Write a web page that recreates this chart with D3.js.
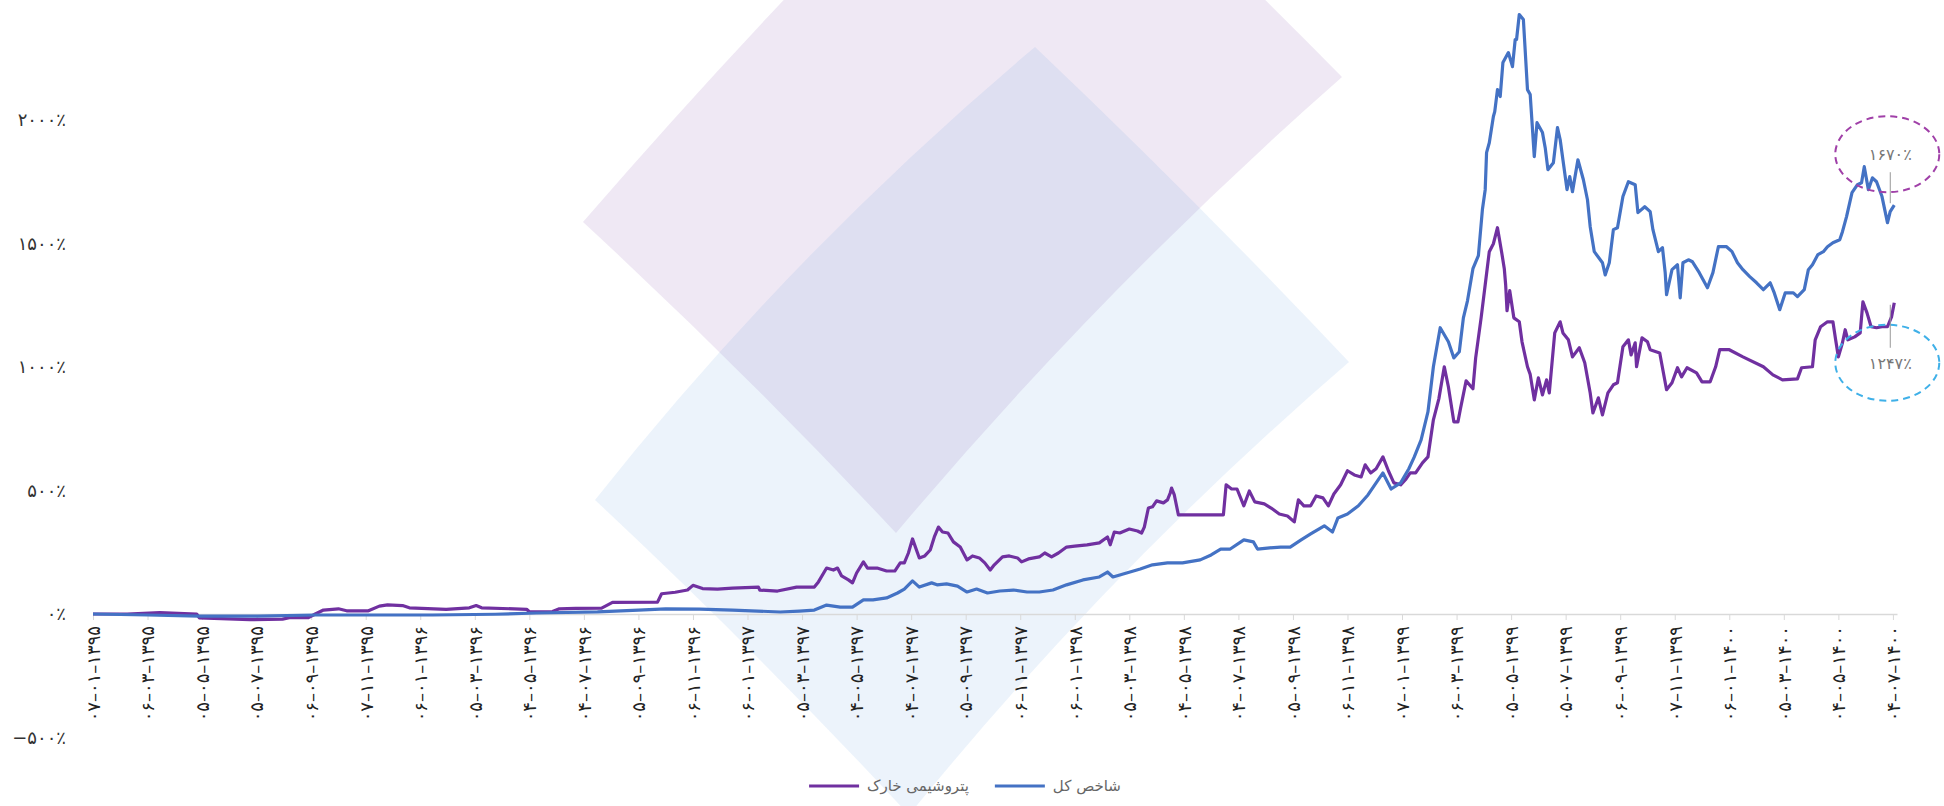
<!DOCTYPE html>
<html>
<head>
<meta charset="utf-8">
<script src="https://cdn.jsdelivr.net/npm/d3@7"></script>
<style>
  body { margin: 0; background: #fff; }
  svg { display: block; font-family: "DejaVu Sans", sans-serif; }
</style>
</head>
<body>
<svg id="chart" width="1944" height="806"></svg>
<script>
// ---- data (روز معاملاتی از ابتدای دوره، بازده تجمعی ٪) ----
var xTickDays = [0, 40, 80, 120, 160, 200, 240, 280, 320, 360, 400, 440, 480, 520, 560, 600, 640,
    680, 720, 760, 800, 840, 880, 920, 960, 1000, 1040, 1080, 1120, 1160, 1200, 1240, 1280, 1320];
var xTickLabels = [
    "۰۷–۰۱–۱۳۹۵", "۰۶–۰۳–۱۳۹۵", "۰۵–۰۵–۱۳۹۵", "۰۵–۰۷–۱۳۹۵", "۰۶–۰۹–۱۳۹۵", "۰۷–۱۱–۱۳۹۵",
    "۰۶–۰۱–۱۳۹۶", "۰۵–۰۳–۱۳۹۶", "۰۴–۰۵–۱۳۹۶", "۰۴–۰۷–۱۳۹۶", "۰۵–۰۹–۱۳۹۶", "۰۶–۱۱–۱۳۹۶",
    "۰۶–۰۱–۱۳۹۷", "۰۵–۰۳–۱۳۹۷", "۰۴–۰۵–۱۳۹۷", "۰۴–۰۷–۱۳۹۷", "۰۵–۰۹–۱۳۹۷", "۰۶–۱۱–۱۳۹۷",
    "۰۶–۰۱–۱۳۹۸", "۰۵–۰۳–۱۳۹۸", "۰۴–۰۵–۱۳۹۸", "۰۴–۰۷–۱۳۹۸", "۰۵–۰۹–۱۳۹۸", "۰۶–۱۱–۱۳۹۸",
    "۰۷–۰۱–۱۳۹۹", "۰۶–۰۳–۱۳۹۹", "۰۵–۰۵–۱۳۹۹", "۰۵–۰۷–۱۳۹۹", "۰۶–۰۹–۱۳۹۹", "۰۷–۱۱–۱۳۹۹",
    "۰۶–۰۱–۱۴۰۰", "۰۵–۰۳–۱۴۰۰", "۰۴–۰۵–۱۴۰۰", "۰۴–۰۷–۱۴۰۰"];
var yTickValues = [-500, 0, 500, 1000, 1500, 2000];
var yTickLabels = ["−۵۰۰٪", "۰٪", "۵۰۰٪", "۱۰۰۰٪", "۱۵۰۰٪", "۲۰۰۰٪"];

var seriesNames = ["شاخص کل", "پتروشیمی خارک"];
var seriesColors = ["#4472c4", "#7030a0"];
var endLabels = ["۱۶۷۰٪", "۱۲۴۷٪"];

// شاخص کل
var indexDays = [0, 40, 78, 121, 163, 205, 249, 295, 325, 370, 400, 420, 445, 469, 504, 518, 529, 538, 548, 557,
    565, 572, 582, 590, 595, 601, 606, 615, 619, 626, 634, 641, 648, 656, 665, 675, 685, 694, 704, 714,
    726, 738, 744, 748, 758, 768, 777, 788, 799, 812, 820, 827, 834, 844, 851, 854, 863, 871, 878, 886,
    893, 903, 909, 913, 920, 928, 935, 941, 946, 952, 959, 965, 969, 974, 979, 983, 988, 994, 998, 1002,
    1005, 1008, 1012, 1016, 1019, 1021, 1022, 1024, 1027, 1028, 1030, 1032, 1034, 1038, 1041, 1043, 1044, 1046, 1049, 1052,
    1054, 1057, 1059, 1063, 1065, 1067, 1071, 1074, 1076, 1078, 1081, 1083, 1085, 1089, 1093, 1096, 1098, 1101, 1107, 1109,
    1112, 1115, 1118, 1122, 1126, 1131, 1133, 1138, 1142, 1144, 1148, 1151, 1153, 1154, 1158, 1162, 1164, 1166, 1170, 1173,
    1178, 1184, 1188, 1192, 1198, 1202, 1206, 1210, 1215, 1220, 1225, 1230, 1233, 1237, 1241, 1247, 1250, 1255, 1258, 1261,
    1265, 1269, 1272, 1276, 1281, 1283, 1286, 1290, 1294, 1297, 1299, 1302, 1305, 1308, 1312, 1314, 1316, 1318, 1321];
var indexValues = [0, -4, -9, -9, -4, -4, -4, -1, 4, 9, 16, 21, 20, 16, 8, 12, 16, 36, 28, 28,
    57, 57, 65, 85, 101, 134, 109, 126, 118, 122, 113, 89, 101, 85, 93, 97, 89, 89, 97, 118,
    138, 150, 170, 150, 166, 182, 199, 207, 207, 219, 239, 263, 263, 300, 292, 263, 268, 271, 271, 300,
    324, 357, 332, 389, 405, 438, 482, 531, 571, 506, 531, 588, 636, 705, 818, 1001, 1159, 1102, 1037, 1062,
    1199, 1268, 1398, 1451, 1640, 1718, 1868, 1908, 2014, 2034, 2123, 2095, 2233, 2273, 2216, 2326, 2326, 2427, 2407, 2123,
    2103, 1852, 1989, 1949, 1888, 1799, 1827, 1969, 1920, 1839, 1718, 1771, 1710, 1839, 1758, 1677, 1568, 1467, 1422, 1373,
    1422, 1556, 1564, 1690, 1750, 1738, 1625, 1649, 1629, 1556, 1467, 1483, 1382, 1293, 1394, 1414, 1280, 1422, 1434, 1426,
    1382, 1321, 1382, 1487, 1487, 1467, 1422, 1394, 1366, 1341, 1313, 1341, 1300, 1232, 1300, 1300, 1285, 1313, 1394, 1414,
    1455, 1467, 1487, 1503, 1515, 1548, 1609, 1706, 1738, 1746, 1811, 1718, 1766, 1750, 1690, 1637, 1584, 1629, 1655];

// پتروشیمی خارک
var kharkDays = [0, 25, 49, 76, 78, 94, 115, 139, 144, 158, 163, 169, 180, 186, 202, 210, 216, 227, 232, 259,
    276, 281, 285, 318, 320, 337, 342, 354, 373, 381, 414, 417, 427, 436, 440, 447, 458, 469, 488, 489,
    502, 516, 529, 532, 538, 543, 546, 549, 554, 557, 560, 565, 568, 575, 582, 588, 592, 595, 598, 601,
    606, 610, 614, 617, 620, 623, 627, 631, 636, 641, 645, 650, 654, 658, 661, 667, 672, 678, 681, 686,
    694, 698, 703, 708, 714, 720, 729, 738, 744, 746, 749, 753, 760, 766, 769, 771, 774, 777, 780, 785,
    788, 790, 791, 793, 796, 829, 831, 835, 839, 844, 848, 852, 859, 864, 870, 876, 881, 884, 888, 893,
    897, 902, 906, 910, 915, 920, 925, 930, 933, 937, 941, 946, 950, 954, 959, 963, 966, 970, 975, 979,
    983, 987, 991, 994, 998, 1001, 1003, 1007, 1012, 1014, 1018, 1021, 1024, 1027, 1030, 1033, 1035, 1036, 1037, 1039,
    1042, 1046, 1048, 1052, 1054, 1057, 1060, 1063, 1066, 1068, 1072, 1076, 1078, 1082, 1085, 1090, 1094, 1098, 1100, 1104,
    1107, 1111, 1115, 1118, 1122, 1126, 1128, 1131, 1132, 1136, 1140, 1142, 1149, 1154, 1158, 1162, 1165, 1169, 1176, 1180,
    1186, 1190, 1193, 1200, 1210, 1225, 1232, 1239, 1250, 1253, 1261, 1263, 1267, 1272, 1276, 1278, 1280, 1283, 1285, 1287,
    1292, 1296, 1298, 1301, 1304, 1308, 1312, 1316, 1319, 1321];
var kharkValues = [0, 0, 6, 0, -16, -19, -23, -21, -15, -15, 0, 16, 21, 13, 13, 32, 37, 34, 25, 19,
    25, 34, 25, 19, 9, 10, 21, 23, 24, 47, 48, 82, 88, 97, 116, 103, 101, 105, 109, 97,
    93, 109, 109, 130, 186, 178, 186, 154, 138, 126, 166, 211, 186, 186, 174, 174, 207, 207, 247, 304,
    227, 235, 259, 312, 352, 332, 328, 292, 271, 219, 235, 227, 207, 178, 199, 231, 235, 227, 211, 223,
    231, 247, 231, 247, 271, 275, 280, 288, 312, 280, 332, 328, 344, 336, 328, 352, 429, 434, 458, 450,
    462, 490, 510, 482, 401, 401, 523, 506, 506, 438, 498, 454, 446, 429, 405, 397, 373, 462, 438, 438,
    478, 470, 438, 486, 523, 580, 563, 555, 604, 571, 588, 636, 580, 531, 523, 547, 571, 571, 612, 636,
    786, 871, 1001, 920, 778, 778, 835, 944, 912, 1037, 1199, 1333, 1467, 1499, 1564, 1467, 1398, 1333, 1228, 1309,
    1199, 1183, 1102, 1001, 970, 867, 956, 887, 948, 895, 1138, 1183, 1138, 1110, 1041, 1078, 1017, 895, 814, 875,
    806, 895, 928, 936, 1082, 1110, 1049, 1098, 1001, 1118, 1102, 1070, 1057, 908, 936, 997, 960, 997, 976, 940,
    940, 1001, 1070, 1070, 1041, 1001, 968, 948, 952, 997, 1001, 1110, 1163, 1183, 1183, 1110, 1041, 1098, 1151, 1110,
    1122, 1138, 1264, 1219, 1163, 1159, 1163, 1163, 1203, 1260];

var series = [
    { name: seriesNames[0], color: seriesColors[0], days: indexDays, values: indexValues, label: endLabels[0] },
    { name: seriesNames[1], color: seriesColors[1], days: kharkDays, values: kharkValues, label: endLabels[1] }
];

// ---- chart ----
var svg = d3.select("#chart");

var x = d3.scaleLinear().domain([0, 1323]).range([93, 1897]);
var y = d3.scaleLinear().domain([0, 2000]).range([614, 120]);

// watermark (دو لوزی کمرنگ پس زمینه)
function curvedShape(pts, bends) {
    var p = d3.path();
    p.moveTo(pts[0][0], pts[0][1]);
    for (var i = 0; i < pts.length; i++) {
        var a = pts[i], b = pts[(i + 1) % pts.length];
        var dx = b[0] - a[0], dy = b[1] - a[1], len = Math.sqrt(dx * dx + dy * dy);
        var cx = (a[0] + b[0]) / 2 + dy / len * bends[i] * 2;
        var cy = (a[1] + b[1]) / 2 - dx / len * bends[i] * 2;
        p.quadraticCurveTo(cx, cy, b[0], b[1]);
    }
    p.closePath();
    return p.toString();
}
var bg = svg.append("g");
bg.append("path")
    .attr("d", curvedShape([[583, 222], [1015, -234], [1342, 77], [896, 533]], [7, 4, -12, -4]))
    .attr("fill", "rgb(150,100,180)").attr("fill-opacity", 0.15);
bg.append("path")
    .attr("d", curvedShape([[595, 500], [1035, 47], [1349, 362], [909, 815]], [16, 3, -14, -4]))
    .attr("fill", "rgb(110,160,225)").attr("fill-opacity", 0.13);

// y axis
var yAxis = svg.append("g")
    .attr("transform", "translate(74,0)")
    .call(d3.axisLeft(y).tickValues(yTickValues)
        .tickFormat(function(d, i) { return yTickLabels[i]; })
        .tickSize(0).tickPadding(8));
yAxis.select(".domain").remove();
yAxis.selectAll("text")
    .attr("font-family", "DejaVu Sans, sans-serif")
    .attr("font-size", 18).attr("fill", "#333").attr("direction", "ltr");

// x axis
var xAxis = svg.append("g")
    .attr("transform", "translate(0," + y(0) + ")")
    .call(d3.axisBottom(x).tickValues(xTickDays)
        .tickFormat(function(d, i) { return xTickLabels[i]; })
        .tickSize(6).tickSizeOuter(0));
xAxis.select(".domain").attr("stroke", "#d9d9d9").attr("stroke-width", 1.5);
xAxis.selectAll(".tick line").attr("stroke", "#d9d9d9");
xAxis.selectAll("text")
    .attr("font-family", "DejaVu Sans, sans-serif")
    .attr("font-size", 18).attr("letter-spacing", 1.2)
    .attr("fill", "#222").attr("direction", "ltr")
    .attr("text-anchor", "end")
    .attr("transform", "rotate(-90)")
    .attr("x", -12).attr("y", 0).attr("dy", "0.35em");

// lines
var line = d3.line()
    .x(function(d) { return x(d[0]); })
    .y(function(d) { return y(d[1]); });

svg.append("g").selectAll("path.serie")
    .data(series.slice().reverse())
    .enter().append("path")
    .attr("class", "serie")
    .attr("d", function(s) { return line(d3.zip(s.days, s.values)); })
    .attr("fill", "none")
    .attr("stroke", function(s) { return s.color; })
    .attr("stroke-width", 3.2)
    .attr("stroke-linejoin", "round");

// end labels in dashed ellipses
var ann = [
    { s: series[0], dy: -51, ring: "#a040a8", lineFrom: -33, lineTo: -2 },
    { s: series[1], dy: 60, ring: "#3fb0e8", lineFrom: 2, lineTo: 45 }
];
ann.forEach(function(a) {
    var n = a.s.days.length;
    var ex = x(a.s.days[n - 1]), ey = y(a.s.values[n - 1]);
    var cx = ex - 7, cy = ey + a.dy;
    svg.append("ellipse")
        .attr("cx", cx).attr("cy", cy).attr("rx", 52).attr("ry", 38)
        .attr("fill", "none").attr("stroke", a.ring)
        .attr("stroke-width", 2).attr("stroke-dasharray", "7,5");
    svg.append("line")
        .attr("x1", ex - 4).attr("x2", ex - 4)
        .attr("y1", ey + a.lineFrom).attr("y2", ey + a.lineTo)
        .attr("stroke", "#999").attr("stroke-width", 1);
    svg.append("text")
        .attr("x", cx + 3).attr("y", cy + 6)
        .attr("text-anchor", "middle").attr("direction", "ltr")
        .attr("font-size", 16).attr("fill", "#777")
        .text(a.s.label);
});

// legend
var legend = svg.append("g").attr("transform", "translate(0,786)");
var items = legend.selectAll("g.item")
    .data(series.slice().reverse())
    .enter().append("g").attr("class", "item");
items.append("line")
    .attr("x1", 0).attr("x2", 50).attr("y1", 0).attr("y2", 0)
    .attr("stroke", function(s) { return s.color; }).attr("stroke-width", 3);
items.append("text")
    .attr("x", 58).attr("y", 5)
    .attr("font-size", 15).attr("fill", "#666")
    .text(function(s) { return s.name; });
var widths = [];
items.each(function() { widths.push(58 + d3.select(this).select("text").node().getComputedTextLength()); });
var total = d3.sum(widths) + 26 * (widths.length - 1);
var pos = 965 - total / 2;
items.attr("transform", function(s, i) {
    var t = "translate(" + pos + ",0)";
    pos += widths[i] + 26;
    return t;
});
</script>
</body>
</html>
